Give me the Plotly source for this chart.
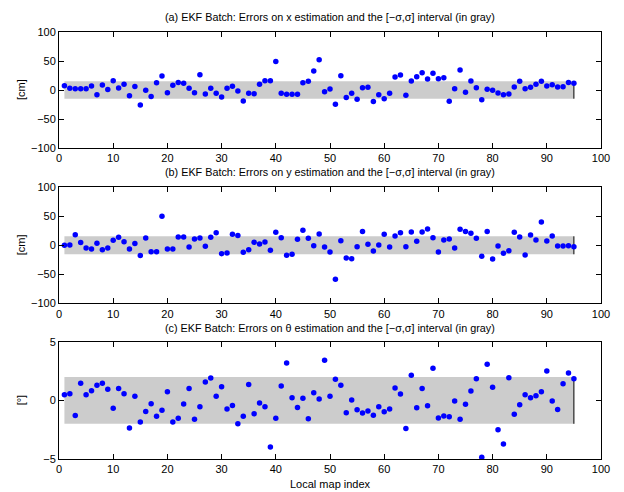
import plotly.graph_objects as go

idx = list(range(1, 96))

err_x = [7.5, 3, 2, 2, 2, 7, -8, 8.6, 1, 16, 3.4, 10, -10, 6, -26, -0.5, -11, 12.6, 24, -4.6,
         8, 13, 11.5, 3, -4.6, 26.4, -7, 3, -5.7, -12, 3, 6.3, -1.7, -19, -5.7, -6.3, 9.8, 16, 16, 49,
         -5.7, -7.5, -7.5, -7.5, 12.6, 15, 32.8, 52, -3, 1.7, -24.7, 24.7, -13, -5.7, -16, 4, 4.6, -20, -8, -15,
         -5.7, 22.4, 25.9, -9, 15.5, 23, 29.9, 19, 28.7, 19.5, 21.3, -19.5, 2.3, 34.5, -4, 15.5, 4, -17, 1.1, -0.6,
         -5, -8, -7, 5, 15, 2.3, 4.6, 10, 15, 7, 9, 5, 5.7, 13, 11.5]

err_y = [0, 0.6, 18.4, 5, -4.6, -6.3, 3.4, -7.5, -4.6, 8.6, 13.8, 6.3, -6.3, 2.9, -17.8, 12.6, -11, -11, 50, -6.3,
         -6.3, 14.4, 14.4, -2.9, 11, 12.6, -1.7, 13.8, 21.8, -14.4, -13.2, 19, 16.7, -12, -7.5, 5.2, 2.3, 5.7, -8.6, 22.4,
         13.2, -17.2, -15.5, 10.3, 25.9, 12, -0.6, 19.5, -2.9, -11.5, -58.6, 8, -21.8, -23, -2.3, 24, 1.7, -9.8, 0.6, 19,
         -2.9, 16, 21.8, -2.3, 23, 6.9, 23, 28, 13.2, -11.5, 9.2, 10.9, -4.6, 27.6, 24, 20.7, 12, -19, 24, -23.6,
         -1.1, -13.8, -9.2, 22.4, 14.4, -16.7, 17.8, 9.2, 40, 7.5, 16, -1.1, -1.1, -0.6, -2.3]

err_t = [0.48, 0.57, -1.3, 1.45, 0.48, 0.82, 1.28, 1.45, 0.94, -0.68, 1.02, 0.57, -2.36, 0.34, -1.85, -0.94, -0.28, -1.36, -0.85, 0.74,
         -1.85, -1.53, -0.31, 1.0, -1.62, -0.54, 1.56, 1.9, 0.34, 1.16, -0.74, -0.43, -1.99, -1.36, 1.36, -1.14, -0.23, -0.54, -3.98, -1.53,
         1.22, 3.18, 0.23, -0.6, 0.17, -1.56, 0.65, 0.11, 3.41, 0.34, 1.79, 1.28, -1.05, 0.03, -0.8, -1.08, -0.91, -1.28, -0.54, -0.97,
         -0.74, 1.05, 0.54, -2.39, 2.13, -0.63, 1.02, -0.45, 2.73, -1.5, -1.34, -1.39, -0.06, -1.62, -0.34, 0.8, 1.85, -4.86, 3.07, 1.11,
         -2.5, -3.72, 1.93, -1.19, -0.37, 0.48, 0.23, 0.4, 0.74, 2.5, -0.06, -0.77, 1.42, 2.33, 1.85]

sigma_x = [15] * 95
sigma_y = [15.5] * 95
sigma_t = [2.0] * 95

titles = [
    "(a) EKF Batch: Errors on x estimation and the [\u2212\u03c3,\u03c3] interval (in gray)",
    "(b) EKF Batch: Errors on y estimation and the [\u2212\u03c3,\u03c3] interval (in gray)",
    "(c) EKF Batch: Errors on \u03b8 estimation and the [\u2212\u03c3,\u03c3] interval (in gray)",
]
ylabels = ["[cm]", "[cm]", "[\u00b0]"]
xticks = list(range(0, 101, 10))
yticks_list = [[-100, -50, 0, 50, 100], [-100, -50, 0, 50, 100], [-5, 0, 5]]
yranges = [[-100, 100], [-100, 100], [-5, 5]]

# page body has an 8px margin: compensate so the screenshot matches
OFF = 8
W, H = 624, 492
left_px, right_px = 59, 601
top_px, bottom_px = 32, 459
ML = left_px - OFF
MR = W - (right_px - OFF)
MT = top_px - OFF
MB = H - (bottom_px - OFF)
plot_h = H - MT - MB
plot_w = W - ML - MR
boxes = [(32, 148), (187.3, 303.3), (341.7, 459)]
title_px = [17, 172, 328]

def py(p):
    return (bottom_px - p) / plot_h

def px(p):
    return (p - left_px) / plot_w

FONT = "Liberation Sans, Arial, Helvetica, sans-serif"
fig = go.Figure()

series = [err_x, err_y, err_t]
sigmas = [sigma_x, sigma_y, sigma_t]

for k in range(3):
    xa = "x" if k == 0 else f"x{k+1}"
    ya = "y" if k == 0 else f"y{k+1}"
    s = sigmas[k]
    upper = s
    lower = [-v for v in s]
    fig.add_trace(go.Scatter(
        x=idx + idx[::-1], y=upper + lower[::-1],
        fill="toself", fillcolor="rgb(204,204,204)",
        line=dict(width=0, color="rgb(204,204,204)"),
        mode="lines", hoverinfo="skip", showlegend=False,
        xaxis=xa, yaxis=ya))
    fig.add_trace(go.Scatter(
        x=[idx[-1], idx[-1]], y=[lower[-1], upper[-1]],
        mode="lines", line=dict(color="black", width=1),
        showlegend=False, xaxis=xa, yaxis=ya))
    fig.add_trace(go.Scatter(
        x=idx, y=series[k], mode="markers",
        marker=dict(color="rgb(0,0,255)", size=5.5, line=dict(width=0)),
        showlegend=False, xaxis=xa, yaxis=ya))

    top, bot = boxes[k]
    axis_common = dict(showline=True, linecolor="black", linewidth=1, mirror="ticks",
                       ticks="inside", ticklen=5, tickcolor="black", tickwidth=1,
                       showgrid=False, zeroline=False,
                       tickfont=dict(family=FONT, size=11, color="black"))
    xkey = "xaxis" if k == 0 else f"xaxis{k+1}"
    ykey = "yaxis" if k == 0 else f"yaxis{k+1}"
    fig.update_layout(**{
        xkey: dict(domain=[0, 1], range=[0, 100], tickvals=xticks, anchor=ya, **axis_common),
        ykey: dict(domain=[py(bot), py(top)], range=yranges[k], tickvals=yticks_list[k],
                   anchor=xa, **axis_common),
    })
    fig.add_annotation(text=titles[k], xref="paper", yref="paper", x=0.5, y=py(title_px[k]),
                       xanchor="center", yanchor="middle", showarrow=False,
                       font=dict(family=FONT, size=10.8, color="black"))
    fig.add_annotation(text=ylabels[k], xref="paper", yref="paper",
                       x=px(21), y=py((top + bot) / 2),
                       xanchor="center", yanchor="middle", textangle=-90, showarrow=False,
                       font=dict(family=FONT, size=11, color="black"))

fig.add_annotation(text="Local map index", xref="paper", yref="paper", x=0.5, y=py(484),
                   xanchor="center", yanchor="middle", showarrow=False,
                   font=dict(family=FONT, size=11, color="black"))

fig.update_layout(width=W, height=H, margin=dict(l=ML, r=MR, t=MT, b=MB),
                  paper_bgcolor="white", plot_bgcolor="white", showlegend=False)

fig.write_html("out.html")
